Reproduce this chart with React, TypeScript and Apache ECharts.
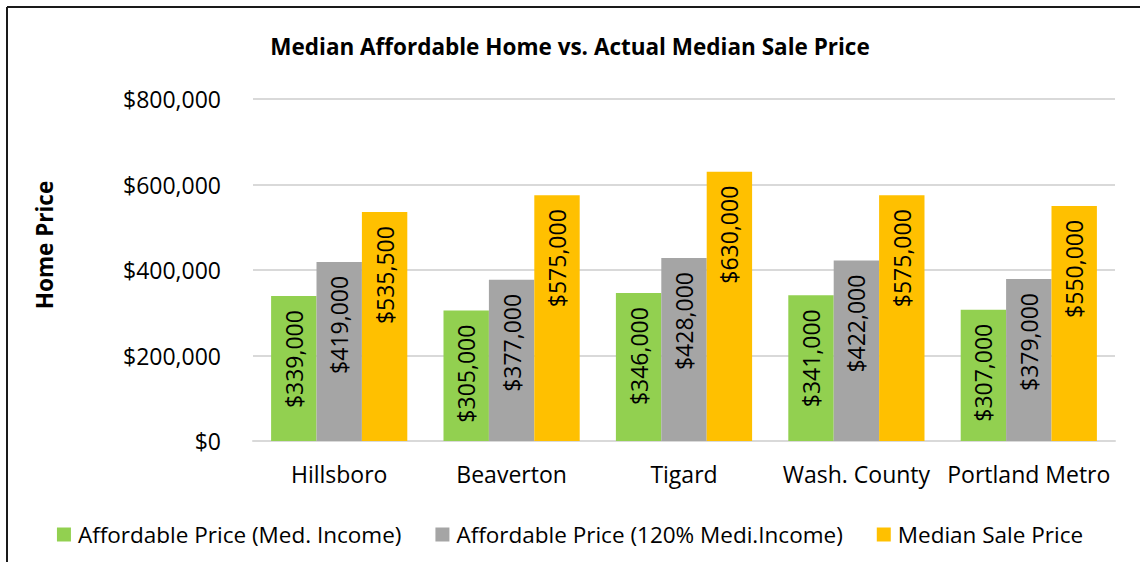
import React, { useEffect, useRef } from "react";
import * as echarts from "echarts";

const categories = ["Hillsboro", "Beaverton", "Tigard", "Wash. County", "Portland Metro"];
const seriesNames = [
  "Affordable Price (Med. Income)",
  "Affordable Price (120% Medi.Income)",
  "Median Sale Price",
];
const affordableMed = [339000, 305000, 346000, 341000, 307000];
const affordable120 = [419000, 377000, 428000, 422000, 379000];
const medianSale = [535500, 575000, 630000, 575000, 550000];
const colors = ["#92D050", "#A5A5A5", "#FFC000"];

const FONT = "Open Sans";

const money = (v: number) => "$" + v.toLocaleString("en-US");

export default function App() {
  const ref = useRef<HTMLDivElement>(null);
  useEffect(() => {
    document.body.style.margin = "0";
    const chart = echarts.init(ref.current!, undefined, { renderer: "svg" });
    const dataSets = [affordableMed, affordable120, medianSale];
    chart.setOption({
      animation: false,
      backgroundColor: "#fff",
      textStyle: { fontFamily: FONT },
      title: {
        text: "Median Affordable Home vs. Actual Median Sale Price",
        left: "center",
        top: 30,
        textStyle: { fontFamily: FONT, fontSize: 22.5, fontWeight: "bold", color: "#000" },
      },
      graphic: [
        { type: "line", shape: { x1: 7, y1: 7, x2: 1140, y2: 7 }, style: { stroke: "#1a1a1a", lineWidth: 2 } },
        { type: "line", shape: { x1: 7, y1: 7, x2: 7, y2: 562 }, style: { stroke: "#1a1a1a", lineWidth: 2 } },
        {
          type: "text",
          x: 44,
          y: 245,
          rotation: Math.PI / 2,
          style: {
            text: "Home Price",
            fontFamily: FONT,
            fontSize: 22.5,
            fontWeight: "bold",
            fill: "#000",
            align: "center",
            verticalAlign: "middle",
          },
        },
      ],
      legend: {
        top: 518,
        left: "center",
        itemWidth: 14,
        itemHeight: 14,
        itemGap: 34,
        icon: "rect",
        textStyle: { fontFamily: FONT, fontSize: 22.5, color: "#000", padding: [0, 0, 0, 2] },
        data: seriesNames,
      },
      grid: { left: 253, right: 25, top: 99, bottom: 121 },
      xAxis: {
        type: "category",
        data: categories,
        axisLine: { lineStyle: { color: "#D9D9D9", width: 2 } },
        axisTick: { show: false },
        axisLabel: { fontFamily: FONT, fontSize: 23, color: "#000", margin: 21, interval: 0 },
      },
      yAxis: {
        type: "value",
        min: 0,
        max: 800000,
        interval: 200000,
        axisLine: { show: false },
        axisTick: { show: false },
        splitLine: { lineStyle: { color: "#D9D9D9", width: 2 } },
        axisLabel: { fontFamily: FONT, fontSize: 23, color: "#000", margin: 32, formatter: (v: number) => money(v) },
      },
      series: dataSets.map((d, i) => ({
        name: seriesNames[i],
        type: "bar",
        data: d,
        barGap: "0%",
        barCategoryGap: "21%",
        itemStyle: { color: colors[i] },
        label: {
          show: true,
          position: "insideTop",
          distance: 14,
          rotate: 90,
          align: "right",
          verticalAlign: "middle",
          fontFamily: FONT,
          fontSize: 23,
          color: "#000",
          formatter: (p: any) => money(p.value),
        },
      })),
    });
    return () => chart.dispose();
  }, []);
  return <div ref={ref} style={{ width: 1140, height: 562 }} />;
}
